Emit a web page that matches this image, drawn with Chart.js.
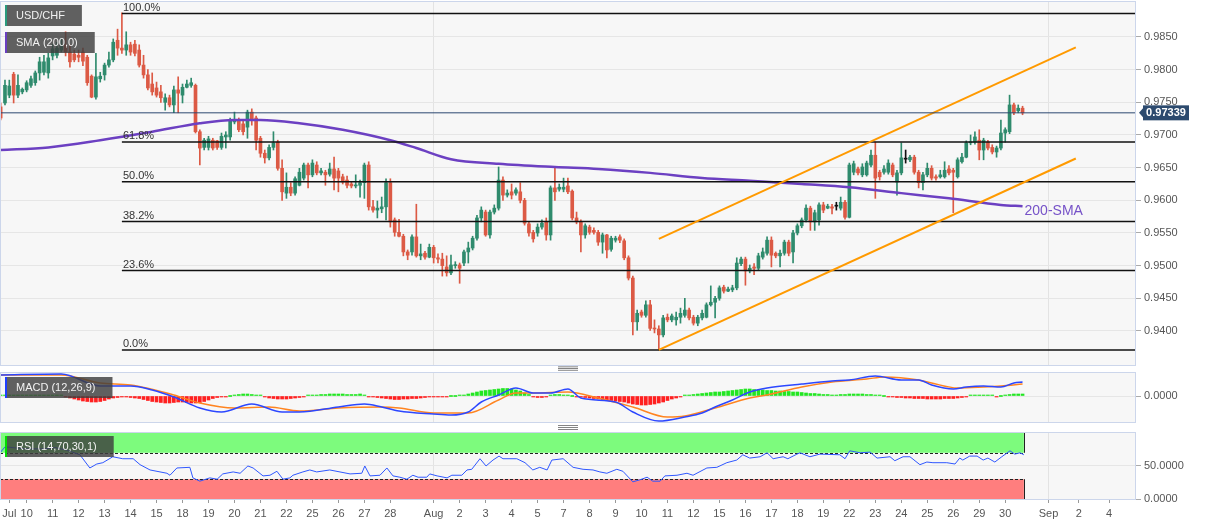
<!DOCTYPE html>
<html>
<head>
<meta charset="utf-8">
<title>USD/CHF</title>
<script src="https://cdn.jsdelivr.net/npm/chart.js@4.4.1/dist/chart.umd.min.js"></script>
<style>
  html, body { margin: 0; padding: 0; background: #fff; }
  #wrap { position: relative; width: 1207px; height: 526px; overflow: hidden; }
  canvas { position: absolute; left: 0; }
  #mainChart { top: 0; }
  #macdChart { top: 366px; }
  #rsiChart { top: 431px; }
</style>
</head>
<body>
<div id="wrap">
  <canvas id="mainChart" width="1207" height="366"></canvas>
  <canvas id="macdChart" width="1207" height="65"></canvas>
  <canvas id="rsiChart" width="1207" height="95"></canvas>
</div>
<script>
// 4H candles
const candleOpen = [
  0.9743,0.9749,0.9761,0.9793,0.9761,0.9766,0.9769,0.9776,0.9780,0.9795,
  0.9796,0.9795,0.9821,0.9822,0.9830,0.9838,0.9827,0.9824,0.9822,0.9827,
  0.9819,0.9790,0.9758,0.9786,0.9792,0.9807,0.9815,0.9845,0.9833,0.9830,
  0.9838,0.9839,0.9830,0.9807,0.9792,0.9778,0.9772,0.9766,0.9750,0.9757,
  0.9746,0.9769,0.9761,0.9773,0.9776,0.9776,0.9705,0.9681,0.9681,0.9692,
  0.9691,0.9681,0.9697,0.9697,0.9720,0.9723,0.9717,0.9712,0.9735,0.9726,
  0.9695,0.9672,0.9665,0.9681,0.9689,0.9649,0.9611,0.9620,0.9611,0.9623,
  0.9634,0.9654,0.9639,0.9654,0.9642,0.9643,0.9640,0.9648,0.9645,0.9636,
  0.9631,0.9625,0.9622,0.9623,0.9627,0.9654,0.9590,0.9585,0.9587,0.9590,
  0.9627,0.9570,0.9551,0.9545,0.9521,0.9521,0.9544,0.9515,0.9519,0.9513,
  0.9528,0.9512,0.9510,0.9498,0.9489,0.9500,0.9501,0.9504,0.9521,0.9527,
  0.9542,0.9573,0.9582,0.9547,0.9582,0.9588,0.9631,0.9608,0.9613,0.9611,
  0.9613,0.9600,0.9564,0.9551,0.9550,0.9559,0.9567,0.9547,0.9619,0.9617,
  0.9617,0.9622,0.9614,0.9573,0.9567,0.9547,0.9559,0.9554,0.9551,0.9536,
  0.9547,0.9525,0.9539,0.9544,0.9538,0.9512,0.9481,0.9414,0.9429,0.9424,
  0.9440,0.9404,0.9403,0.9394,0.9421,0.9417,0.9417,0.9421,0.9424,0.9432,
  0.9421,0.9412,0.9420,0.9421,0.9440,0.9444,0.9450,0.9467,0.9461,0.9463,
  0.9466,0.9503,0.9510,0.9492,0.9498,0.9496,0.9513,0.9519,0.9539,0.9519,
  0.9515,0.9519,0.9536,0.9521,0.9550,0.9561,0.9570,0.9588,0.9567,0.9570,
  0.9593,0.9588,0.9590,0.9591,0.9588,0.9597,0.9574,0.9643,0.9648,0.9639,
  0.9639,0.9654,0.9669,0.9643,0.9643,0.9643,0.9654,0.9628,0.9642,0.9663,
  0.9662,0.9666,0.9643,0.9627,0.9639,0.9649,0.9636,0.9636,0.9636,0.9648,
  0.9646,0.9636,0.9659,0.9666,0.9688,0.9689,0.9692,0.9677,0.9689,0.9681,
  0.9674,0.9680,0.9703,0.9705,0.9746,0.9737,0.9741
];
const candleHigh = [
  0.9749,0.9784,0.9784,0.9796,0.9792,0.9772,0.9783,0.9790,0.9798,0.9819,
  0.9822,0.9825,0.9839,0.9842,0.9848,0.9858,0.9838,0.9830,0.9830,0.9833,
  0.9822,0.9792,0.9825,0.9796,0.9810,0.9827,0.9847,0.9862,0.9887,0.9858,
  0.9842,0.9845,0.9838,0.9822,0.9800,0.9795,0.9781,0.9776,0.9763,0.9761,
  0.9775,0.9789,0.9778,0.9784,0.9787,0.9778,0.9708,0.9695,0.9698,0.9695,
  0.9692,0.9703,0.9705,0.9726,0.9735,0.9726,0.9723,0.9738,0.9740,0.9729,
  0.9698,0.9677,0.9685,0.9705,0.9692,0.9662,0.9642,0.9627,0.9636,0.9649,
  0.9657,0.9657,0.9662,0.9659,0.9649,0.9646,0.9657,0.9666,0.9649,0.9640,
  0.9637,0.9628,0.9639,0.9631,0.9657,0.9659,0.9600,0.9599,0.9605,0.9633,
  0.9633,0.9573,0.9571,0.9548,0.9524,0.9547,0.9594,0.9533,0.9522,0.9533,
  0.9531,0.9518,0.9519,0.9515,0.9516,0.9506,0.9504,0.9524,0.9536,0.9545,
  0.9577,0.9590,0.9585,0.9585,0.9593,0.9651,0.9636,0.9616,0.9625,0.9619,
  0.9627,0.9603,0.9567,0.9554,0.9564,0.9570,0.9573,0.9622,0.9651,0.9625,
  0.9634,0.9634,0.9616,0.9582,0.9570,0.9564,0.9562,0.9558,0.9554,0.9550,
  0.9548,0.9545,0.9545,0.9547,0.9541,0.9515,0.9484,0.9432,0.9432,0.9446,
  0.9447,0.9417,0.9408,0.9424,0.9426,0.9426,0.9429,0.9435,0.9450,0.9435,
  0.9424,0.9424,0.9432,0.9443,0.9469,0.9453,0.9469,0.9470,0.9467,0.9470,
  0.9512,0.9513,0.9513,0.9501,0.9503,0.9519,0.9527,0.9544,0.9544,0.9521,
  0.9524,0.9539,0.9539,0.9554,0.9564,0.9573,0.9593,0.9591,0.9585,0.9596,
  0.9597,0.9594,0.9594,0.9597,0.9605,0.9600,0.9657,0.9660,0.9651,0.9656,
  0.9660,0.9677,0.9689,0.9646,0.9653,0.9662,0.9657,0.9646,0.9688,0.9677,
  0.9669,0.9669,0.9646,0.9643,0.9657,0.9653,0.9639,0.9646,0.9659,0.9653,
  0.9649,0.9665,0.9672,0.9691,0.9700,0.9705,0.9708,0.9695,0.9692,0.9685,
  0.9683,0.9723,0.9711,0.9761,0.9749,0.9746,0.9744
];
const candleLow = [
  0.9723,0.9746,0.9757,0.9749,0.9757,0.9763,0.9766,0.9773,0.9776,0.9784,
  0.9792,0.9787,0.9815,0.9818,0.9827,0.9821,0.9804,0.9812,0.9812,0.9806,
  0.9776,0.9757,0.9755,0.9781,0.9784,0.9804,0.9812,0.9822,0.9825,0.9822,
  0.9822,0.9821,0.9804,0.9787,0.9769,0.9761,0.9758,0.9750,0.9738,0.9743,
  0.9734,0.9734,0.9749,0.9772,0.9773,0.9703,0.9654,0.9677,0.9677,0.9677,
  0.9678,0.9678,0.9680,0.9692,0.9717,0.9705,0.9700,0.9695,0.9715,0.9677,
  0.9666,0.9657,0.9662,0.9677,0.9646,0.9600,0.9603,0.9607,0.9608,0.9622,
  0.9631,0.9619,0.9636,0.9639,0.9639,0.9623,0.9637,0.9616,0.9613,0.9625,
  0.9619,0.9619,0.9619,0.9605,0.9603,0.9585,0.9582,0.9573,0.9581,0.9570,
  0.9559,0.9545,0.9544,0.9515,0.9509,0.9516,0.9513,0.9509,0.9510,0.9512,
  0.9504,0.9504,0.9484,0.9484,0.9486,0.9496,0.9473,0.9500,0.9504,0.9524,
  0.9539,0.9567,0.9545,0.9542,0.9579,0.9585,0.9600,0.9605,0.9602,0.9608,
  0.9596,0.9562,0.9545,0.9536,0.9545,0.9556,0.9539,0.9539,0.9600,0.9614,
  0.9613,0.9610,0.9570,0.9564,0.9521,0.9542,0.9548,0.9548,0.9531,0.9519,
  0.9512,0.9522,0.9536,0.9535,0.9509,0.9478,0.9394,0.9401,0.9421,0.9421,
  0.9401,0.9397,0.9371,0.9391,0.9414,0.9414,0.9409,0.9412,0.9421,0.9417,
  0.9409,0.9408,0.9417,0.9420,0.9438,0.9420,0.9447,0.9458,0.9460,0.9460,
  0.9463,0.9500,0.9470,0.9489,0.9486,0.9493,0.9510,0.9516,0.9498,0.9512,
  0.9498,0.9516,0.9515,0.9504,0.9547,0.9558,0.9567,0.9554,0.9554,0.9562,
  0.9581,0.9587,0.9579,0.9585,0.9585,0.9571,0.9573,0.9639,0.9639,0.9636,
  0.9637,0.9651,0.9603,0.9631,0.9640,0.9640,0.9636,0.9608,0.9639,0.9657,
  0.9659,0.9640,0.9619,0.9616,0.9636,0.9631,0.9631,0.9634,0.9634,0.9639,
  0.9581,0.9634,0.9657,0.9665,0.9685,0.9686,0.9662,0.9662,0.9677,0.9671,
  0.9666,0.9677,0.9689,0.9702,0.9731,0.9734,0.9731
];
const candleClose = [
  0.9726,0.9776,0.9775,0.9761,0.9776,0.9770,0.9780,0.9786,0.9795,0.9812,
  0.9812,0.9818,0.9832,0.9833,0.9838,0.9827,0.9812,0.9815,0.9819,0.9813,
  0.9780,0.9758,0.9789,0.9790,0.9807,0.9815,0.9842,0.9833,0.9830,0.9838,
  0.9827,0.9825,0.9807,0.9792,0.9772,0.9766,0.9761,0.9757,0.9757,0.9746,
  0.9769,0.9764,0.9773,0.9778,0.9780,0.9705,0.9680,0.9692,0.9694,0.9680,
  0.9681,0.9698,0.9700,0.9721,0.9723,0.9708,0.9705,0.9735,0.9723,0.9692,
  0.9672,0.9665,0.9681,0.9688,0.9649,0.9613,0.9620,0.9611,0.9633,0.9643,
  0.9654,0.9639,0.9657,0.9642,0.9645,0.9639,0.9648,0.9634,0.9634,0.9628,
  0.9623,0.9622,0.9623,0.9627,0.9654,0.9590,0.9585,0.9588,0.9590,0.9627,
  0.9567,0.9551,0.9545,0.9521,0.9516,0.9544,0.9515,0.9518,0.9513,0.9528,
  0.9512,0.9510,0.9500,0.9489,0.9501,0.9501,0.9496,0.9521,0.9527,0.9542,
  0.9573,0.9585,0.9547,0.9582,0.9588,0.9631,0.9608,0.9611,0.9608,0.9616,
  0.9600,0.9565,0.9550,0.9541,0.9559,0.9565,0.9547,0.9619,0.9613,0.9620,
  0.9620,0.9613,0.9573,0.9567,0.9547,0.9561,0.9551,0.9551,0.9536,0.9547,
  0.9524,0.9542,0.9542,0.9539,0.9512,0.9481,0.9414,0.9427,0.9424,0.9440,
  0.9404,0.9403,0.9394,0.9420,0.9417,0.9423,0.9421,0.9427,0.9432,0.9420,
  0.9412,0.9421,0.9427,0.9440,0.9444,0.9450,0.9466,0.9461,0.9464,0.9466,
  0.9504,0.9510,0.9492,0.9496,0.9496,0.9515,0.9521,0.9539,0.9516,0.9515,
  0.9519,0.9536,0.9519,0.9550,0.9561,0.9570,0.9588,0.9567,0.9581,0.9593,
  0.9585,0.9591,0.9588,0.9591,0.9597,0.9574,0.9654,0.9656,0.9642,0.9651,
  0.9657,0.9669,0.9634,0.9636,0.9648,0.9657,0.9639,0.9642,0.9665,0.9663,
  0.9666,0.9643,0.9627,0.9639,0.9649,0.9634,0.9634,0.9639,0.9646,0.9642,
  0.9643,0.9662,0.9666,0.9688,0.9689,0.9697,0.9677,0.9692,0.9680,0.9674,
  0.9680,0.9703,0.9708,0.9746,0.9734,0.9741,0.97339
];

// 200 SMA, sampled along the curve (candle index, price)
const smaIdx = [0, 11, 23, 35, 46, 54, 60, 69, 79, 90, 96, 104, 115, 128, 138, 150, 162, 173, 185, 196, 208, 219, 231, 236];
const smaVal = [0.9677, 0.9681, 0.9692, 0.9705, 0.9718, 0.9723, 0.9723, 0.9718, 0.9708, 0.9692, 0.9680, 0.9663, 0.9656, 0.9651, 0.9648, 0.9642, 0.9634, 0.9630, 0.9625, 0.9620, 0.9611, 0.9603, 0.9593, 0.9591];

// fibonacci retracement, 14 Jul high to 11 Aug low
const fibStartIdx = 28;
const fibHigh = 0.9886;
const fibLow = 0.9371;
const fibRatios = [1, 0.618, 0.5, 0.382, 0.236, 0];
const fibLabels = ['100.0%', '61.8%', '50.0%', '38.2%', '23.6%', '0.0%'];

// rising channel
const channelIdx = [152, 248.3];
const channelUpper = [0.9541, 0.9834];
const channelLower = [0.9371, 0.9664];

const priceTicks = [0.9400, 0.9450, 0.9500, 0.9550, 0.9600, 0.9650, 0.9700, 0.9750, 0.9800, 0.9850];

// MACD (12,26,9)
const macdIdx = [0, 14, 23, 30, 35, 40, 46, 51, 58, 65, 69, 78, 84, 88, 92, 100, 104, 108, 111, 115, 119, 123, 127, 131, 134, 142, 146, 152, 158, 162, 165, 169, 173, 177, 185, 192, 196, 202, 208, 212, 215, 220, 223, 227, 231, 234, 236];
const macdVal = [0.0042, 0.0044, 0.0020, 0.0020, 0.0012, -0.0002, -0.0024, -0.0032, -0.0016, -0.0032, -0.0032, -0.0022, -0.0016, -0.0022, -0.0030, -0.0036, -0.0038, -0.0032, -0.0012, 0.0002, 0.0016, 0.0006, 0.0006, 0.0014, -0.0004, -0.0012, -0.0032, -0.0050, -0.0042, -0.0034, -0.0022, -0.0008, 0.0008, 0.0016, 0.0024, 0.0030, 0.0032, 0.0040, 0.0032, 0.0032, 0.0022, 0.0014, 0.0018, 0.0020, 0.0018, 0.0026, 0.0028];
const signalIdx = [0, 14, 23, 30, 40, 46, 54, 62, 69, 78, 88, 92, 100, 108, 115, 119, 123, 131, 138, 146, 154, 158, 165, 173, 177, 185, 192, 200, 204, 212, 215, 221, 227, 231, 236];
const signalVal = [0.0042, 0.0042, 0.0026, 0.0022, 0.0002, -0.0014, -0.0024, -0.0022, -0.0030, -0.0024, -0.0022, -0.0024, -0.0034, -0.0034, -0.0008, 0.0006, 0.0006, 0.0008, -0.0004, -0.0022, -0.0042, -0.0040, -0.0024, -0.0004, 0.0002, 0.0018, 0.0028, 0.0034, 0.0038, 0.0032, 0.0026, 0.0016, 0.0018, 0.0020, 0.0024];
const macdHist = [
  0.0001,0.0001,0.0001,0.0001,0.0001,0.0001,0.0001,0.0001,0.0001,0.0001,0.0001,0.0001,0.0001,0.0001,0.0001,
  -0.0002,-0.0004,-0.0006,-0.0008,-0.0010,-0.0011,-0.0012,-0.0012,-0.0011,-0.0009,-0.0006,
  -0.0004,-0.0003,-0.0002,-0.0002,-0.0003,-0.0004,-0.0005,
  -0.0007,-0.0009,-0.0011,-0.0012,-0.0013,-0.0014,-0.0014,-0.0013,-0.0012,-0.0012,-0.0013,-0.0014,-0.0014,-0.0013,-0.0011,-0.0008,-0.0005,
  -0.0003,-0.0002,-0.0001,0,
  0.0002,0.0003,0.0004,0.0004,0.0003,0.0002,0.0001,
  -0.0002,-0.0004,-0.0005,-0.0006,-0.0006,-0.0006,-0.0005,-0.0004,-0.0003,-0.0001,
  0.0001,0.0002,0.0002,0.0003,0.0003,0.0004,0.0004,0.0004,0.0004,0.0003,0.0003,0.0003,0.0004,0.0002,
  -0.0001,-0.0002,-0.0003,-0.0004,-0.0005,-0.0006,-0.0007,-0.0007,-0.0006,-0.0006,-0.0005,-0.0005,-0.0004,-0.0003,-0.0002,-0.0002,-0.0001,
  -0.0001,-0.0001,0,0,
  0.0001,0.0002,0.0004,0.0006,0.0008,0.0010,0.0011,0.0012,0.0013,0.0014,0.0015,0.0015,0.0014,0.0012,0.0010,
  0.0006,0.0003,
  -0.0002,-0.0003,-0.0003,-0.0001,
  0.0002,0.0003,0.0003,0.0002,0.0001,
  0,-0.0001,
  -0.0002,-0.0003,-0.0004,-0.0005,-0.0006,-0.0007,-0.0008,-0.0009,-0.0010,-0.0011,-0.0012,
  -0.0014,-0.0016,-0.0017,-0.0018,-0.0018,-0.0017,-0.0016,-0.0014,-0.0012,
  -0.0009,-0.0006,-0.0004,-0.0002,
  0.0001,0.0002,0.0003,0.0004,0.0005,0.0006,0.0007,0.0008,0.0008,0.0009,0.0010,
  0.0011,0.0012,0.0013,0.0014,0.0014,0.0013,0.0012,0.0012,0.0011,
  0.0011,0.0010,0.0010,0.0009,0.0009,0.0008,0.0008,
  0.0007,0.0006,0.0005,0.0005,0.0004,0.0003,
  0.0003,0.0002,0.0002,0.0003,0.0003,0.0004,0.0004,0.0004,0.0004,0.0003,0.0003,0.0002,
  0.0001,0,-0.0001,
  -0.0002,-0.0003,-0.0003,-0.0004,-0.0004,-0.0005,-0.0005,-0.0005,-0.0006,-0.0006,-0.0006,-0.0006,-0.0005,-0.0005,-0.0005,-0.0004,-0.0003,-0.0002,
  0.0001,0.0002,0.0002,0.0002,0.0001,0.0001,
  -0.0001,0,
  0.0002,0.0003,0.0004,0.0004,0.0004
];

// RSI (14,70,30,1)
const rsiIdx = [0, 1, 5.6, 10.2, 12.5, 15.3, 18.3, 20.6, 22.2, 23.6, 25.9, 28.2, 30.6, 32.2, 34.5, 38.4, 39.1, 40.7, 43.7, 44.4, 46, 48.3, 50, 51.3, 53.7, 55.3, 57.1, 58.3, 60.6, 62.2, 63.8, 65.2, 66.8, 67.5, 69.8, 71.4, 73, 76, 80.7, 83.4, 84.1, 85.3, 87.6, 89.2, 90.6, 92.2, 93.8, 95.2, 96.4, 98.4, 99.1, 100.8, 103.1, 104.2, 106.5, 107.7, 108.8, 110.7, 112.1, 113.7, 115.1, 116, 119.2, 121.1, 122.9, 124.5, 126.2, 127.3, 129.9, 132.2, 134.5, 136.8, 138.4, 140, 142.3, 143.7, 146, 147.6, 149.3, 150.6, 152.3, 153.4, 156.2, 158.5, 159.9, 163.1, 165.4, 167.7, 170, 171.4, 173, 175.4, 177, 178.4, 180.7, 181.8, 183.9, 184.6, 186.9, 189.2, 193.8, 195, 196.1, 198.5, 200.8, 202.4, 205.4, 206.5, 208.4, 210, 212.3, 213.9, 215.3, 218.5, 220.4, 221.5, 222.2, 223.8, 225.5, 226.9, 228, 229.6, 231.2, 233.1, 234.2, 235.4, 236.3];
const rsiVal = [71, 79, 76, 76, 78, 74, 67, 47, 53, 55, 64, 61, 61, 52, 44, 39, 36, 47, 48, 32, 27, 32, 30, 38, 41, 39, 50, 47, 35, 36, 42, 30, 32, 36, 41, 44, 41, 44, 38, 39, 50, 35, 36, 47, 35, 33, 30, 36, 33, 33, 38, 35, 32, 36, 36, 44, 45, 61, 50, 59, 65, 61, 61, 55, 44, 48, 44, 59, 61, 48, 45, 44, 41, 39, 45, 42, 26, 29, 33, 27, 27, 35, 36, 39, 36, 47, 48, 55, 59, 67, 62, 64, 70, 61, 64, 61, 68, 70, 64, 68, 67, 61, 73, 70, 71, 62, 64, 58, 64, 64, 52, 56, 55, 55, 53, 62, 59, 65, 65, 59, 62, 56, 64, 73, 68, 70, 67];
const rsiUpper = 70;
const rsiLower = 30;

// date axis
const xTickIdx = [2, 6, 12, 18, 24, 30, 36, 42, 48, 54, 60, 66, 72, 78, 84, 90, 100, 106, 112, 118, 124, 130, 136, 142, 148, 154, 160, 166, 172, 178, 184, 190, 196, 202, 208, 214, 220, 226, 232, 242, 249, 256];
const xTickLabels = ['Jul','10','11','12','13','14','15','18','19','20','21','22','25','26','27','28','Aug','2','3','4','5','7','8','9','10','11','12','15','16','17','18','19','22','23','24','25','26','29','30','Sep','2','4'];
const monthLineIdx = [100, 242];

const symbolName = 'USD/CHF';
const smaName = 'SMA (200,0)';
const macdName = 'MACD (12,26,9)';
const rsiName = 'RSI (14,70,30,1)';

const FONT = '"Liberation Sans", Arial, sans-serif';
const X_MIN = -0.15, X_MAX = 262.2;
const AXIS_W = 71;
const PLOT_BG = '#f7f7f7';
const PLOT_BORDER = '#ccd6eb';
const GRID = '#e6e6e6';

Chart.defaults.font.family = FONT;
Chart.defaults.font.size = 11;
Chart.defaults.color = '#555';
Chart.defaults.animation = false;
Chart.defaults.plugins.legend.display = false;
Chart.defaults.plugins.tooltip.enabled = false;

const toPts = (xs, ys) => xs.map((x, i) => ({ x: x, y: ys[i] }));

// no label overhang padding, the panels have to line up exactly
function noPad(s) {
  s.paddingTop = 0; s.paddingBottom = 0; s.paddingLeft = 0; s.paddingRight = 0;
}

function candleColor(i) {
  if (candleClose[i] === candleOpen[i]) return '#111';
  return candleClose[i] > candleOpen[i] ? '#2f8b6d' : '#dc5a45';
}
const candleColors = candleClose.map((_, i) => candleColor(i));
const wickData = candleClose.map((_, i) => ({ x: i, y: [candleLow[i], candleHigh[i]] }));
const bodyData = candleClose.map((_, i) => ({ x: i, y: [candleOpen[i], candleClose[i]] }));
const lastClose = candleClose[candleClose.length - 1];

// panel background + frame
const panelFrame = {
  id: 'panelFrame',
  beforeDraw(chart) {
    const { ctx, chartArea: a } = chart;
    ctx.save();
    ctx.fillStyle = PLOT_BG;
    ctx.fillRect(a.left, a.top, a.right - a.left, a.bottom - a.top);
    ctx.restore();
  },
  afterDraw(chart) {
    const { ctx, chartArea: a } = chart;
    ctx.save();
    ctx.strokeStyle = PLOT_BORDER;
    ctx.lineWidth = 1;
    ctx.strokeRect(a.left + 0.5, a.top + 0.5, a.right - a.left - 1, a.bottom - a.top);
    ctx.restore();
  }
};

function drawTag(ctx, x, y, text, barColor) {
  ctx.save();
  ctx.font = '11px ' + FONT;
  const w = ctx.measureText(text).width + 28;
  const h = 21;
  ctx.fillStyle = 'rgba(62,62,62,0.82)';
  ctx.fillRect(x, y, w, h);
  ctx.fillStyle = barColor;
  ctx.fillRect(x, y, 2, h);
  ctx.fillStyle = '#f2f2f2';
  ctx.textBaseline = 'middle';
  ctx.textAlign = 'left';
  ctx.fillText(text, x + 11, y + h / 2 + 0.5);
  ctx.restore();
}

const xLinear = () => ({
  type: 'linear', min: X_MIN, max: X_MAX, offset: false,
  afterBuildTicks: s => { s.ticks = monthLineIdx.map(v => ({ value: v })); },
  afterFit: s => { s.height = 0; noPad(s); },
  ticks: { display: false },
  grid: { color: '#e3e3e3', drawTicks: false, offset: false },
  border: { display: false }
});

const yRight = (min, max, ticks, fmt) => ({
  position: 'right', min: min, max: max,
  afterBuildTicks: s => { s.ticks = ticks.map(v => ({ value: v })); },
  afterFit: s => { s.width = AXIS_W; noPad(s); },
  ticks: { callback: fmt, padding: 3, color: '#555', font: { size: 11 } },
  grid: { color: GRID, tickColor: '#aaa', tickLength: 5 },
  border: { display: false }
});

// ---------- main price panel ----------
const mainOverlay = {
  id: 'mainOverlay',
  afterDraw(chart) {
    const { ctx, scales: { x, y } } = chart;
    ctx.save();
    // fib labels
    ctx.font = '11px ' + FONT;
    ctx.fillStyle = '#333';
    ctx.textAlign = 'left';
    ctx.textBaseline = 'alphabetic';
    fibRatios.forEach((r, i) => {
      const lvl = fibLow + (fibHigh - fibLow) * r;
      ctx.fillText(fibLabels[i], x.getPixelForValue(fibStartIdx) + 1, y.getPixelForValue(lvl) - 2.5);
    });
    // 200-SMA text
    ctx.font = '14px ' + FONT;
    ctx.fillStyle = '#7652c8';
    ctx.textBaseline = 'middle';
    const n = smaIdx.length - 1;
    ctx.fillText('200-SMA', x.getPixelForValue(smaIdx[n]) + 2, y.getPixelForValue(smaVal[n]) + 5);
    // last price tag
    const py = y.getPixelForValue(lastClose);
    const bx = chart.chartArea.right + 7;
    ctx.fillStyle = '#2c4a6e';
    ctx.beginPath();
    ctx.moveTo(bx - 4, py);
    ctx.lineTo(bx, py - 4.5);
    ctx.lineTo(bx, py + 4.5);
    ctx.closePath();
    ctx.fill();
    ctx.fillRect(bx, py - 7.5, 46, 15);
    ctx.font = 'bold 11px ' + FONT;
    ctx.fillStyle = '#fff';
    ctx.textAlign = 'center';
    ctx.fillText(lastClose.toFixed(5), bx + 23, py + 0.5);
    ctx.restore();
    drawTag(ctx, 5, 5, symbolName, '#2a9a7c');
    drawTag(ctx, 5, 32, smaName, '#6a3fc0');
  }
};

const lineDs = (data, color, width, order, extra) => Object.assign({
  type: 'line', data: data, borderColor: color, borderWidth: width,
  pointRadius: 0, fill: false, order: order
}, extra || {});

const fibSets = fibRatios.map(r => {
  const lvl = fibLow + (fibHigh - fibLow) * r;
  return lineDs([{ x: fibStartIdx, y: lvl }, { x: X_MAX, y: lvl }], '#111', 1.5, 4);
});

new Chart(document.getElementById('mainChart'), {
  type: 'bar',
  data: {
    datasets: [
      { type: 'bar', data: wickData, backgroundColor: candleColors, barThickness: 1, grouped: false, order: 11 },
      { type: 'bar', data: bodyData, backgroundColor: candleColors, barThickness: 3, minBarLength: 1, grouped: false, order: 10 },
      lineDs(toPts(smaIdx, smaVal), '#6c40c2', 2.5, 5, { tension: 0.4, cubicInterpolationMode: 'monotone' }),
      ...fibSets,
      lineDs(toPts(channelIdx, channelUpper), '#ff9a00', 2, 3),
      lineDs(toPts(channelIdx, channelLower), '#ff9a00', 2, 3),
      lineDs([{ x: X_MIN, y: lastClose }, { x: X_MAX, y: lastClose }], '#2c4870', 1, 2)
    ]
  },
  options: {
    responsive: false,
    devicePixelRatio: 1,
    layout: { padding: { top: 1, bottom: 1, left: 0, right: 0 } },
    scales: {
      x: xLinear(),
      y: yRight(0.93479, 0.99051, priceTicks, v => v.toFixed(4))
    }
  },
  plugins: [panelFrame, mainOverlay]
});

// ---------- MACD panel ----------
const macdOverlay = {
  id: 'macdOverlay',
  afterDraw(chart) {
    const { ctx, chartArea: a } = chart;
    ctx.save();
    ctx.fillStyle = '#777';
    const cx = (a.left + a.right) / 2;
    for (let k = 0; k < 3; k++) {
      ctx.fillRect(cx - 10, a.top - 5.6 + k * 1.7, 20, 0.9);
      ctx.fillRect(cx - 10, a.bottom + 3 + k * 2, 20, 0.9);
    }
    ctx.restore();
    drawTag(ctx, 5, a.top + 5, macdName, '#1f3fff');
  }
};

new Chart(document.getElementById('macdChart'), {
  type: 'bar',
  data: {
    datasets: [
      {
        type: 'bar', data: macdHist.map((v, i) => ({ x: i, y: v })),
        backgroundColor: macdHist.map(v => v >= 0 ? '#22e622' : '#ff2020'),
        barThickness: 3, minBarLength: 1, grouped: false, order: 10
      },
      lineDs(toPts(macdIdx, macdVal), '#2c47ff', 1.5, 2, { tension: 0.4, cubicInterpolationMode: 'monotone' }),
      lineDs(toPts(signalIdx, signalVal), '#ff8420', 1.5, 3, { tension: 0.4, cubicInterpolationMode: 'monotone' })
    ]
  },
  options: {
    responsive: false,
    devicePixelRatio: 1,
    layout: { padding: { top: 6, bottom: 9, left: 0, right: 0 } },
    scales: {
      x: xLinear(),
      y: yRight(-0.0052, 0.0048, [0], v => Math.abs(v).toFixed(4))
    }
  },
  plugins: [panelFrame, macdOverlay]
});

// ---------- RSI panel ----------
const rsiZones = {
  id: 'rsiZones',
  beforeDatasetsDraw(chart) {
    const { ctx, chartArea: a, scales: { x, y } } = chart;
    const xr = x.getPixelForValue(rsiIdx[rsiIdx.length - 1]);
    const yu = y.getPixelForValue(rsiUpper);
    const yl = y.getPixelForValue(rsiLower);
    ctx.save();
    ctx.fillStyle = '#7dfb7d';
    ctx.fillRect(a.left, a.top, xr - a.left, yu - a.top);
    ctx.fillStyle = '#ff7e7e';
    ctx.fillRect(a.left, yl, xr - a.left, a.bottom - yl);
    ctx.strokeStyle = '#222';
    ctx.lineWidth = 1;
    ctx.setLineDash([3, 2]);
    ctx.beginPath();
    ctx.moveTo(a.left, Math.round(yu) + 0.5); ctx.lineTo(xr, Math.round(yu) + 0.5);
    ctx.moveTo(a.left, Math.round(yl) + 0.5); ctx.lineTo(xr, Math.round(yl) + 0.5);
    ctx.stroke();
    ctx.setLineDash([]);
    ctx.beginPath();
    ctx.moveTo(Math.round(xr) + 0.5, a.top); ctx.lineTo(Math.round(xr) + 0.5, yu);
    ctx.moveTo(Math.round(xr) + 0.5, yl); ctx.lineTo(Math.round(xr) + 0.5, a.bottom);
    ctx.moveTo(a.left + 0.5, yl); ctx.lineTo(a.left + 0.5, a.bottom);
    ctx.stroke();
    ctx.restore();
  },
  afterDraw(chart) {
    drawTag(chart.ctx, 5, chart.chartArea.top + 4, rsiName, '#00dd00');
  }
};

new Chart(document.getElementById('rsiChart'), {
  type: 'line',
  data: {
    datasets: [
      lineDs(toPts(rsiIdx, rsiVal), '#2f57ff', 1, 1)
    ]
  },
  options: {
    responsive: false,
    devicePixelRatio: 1,
    layout: { padding: { top: 1, bottom: 0, left: 0, right: 0 } },
    scales: {
      x: {
        type: 'linear', min: X_MIN, max: X_MAX, offset: false,
        afterBuildTicks: s => { s.ticks = xTickIdx.map(v => ({ value: v })); },
        afterFit: s => { s.height = 27; noPad(s); },
        ticks: {
          autoSkip: false, maxRotation: 0, minRotation: 0, padding: 4, color: '#555',
          font: { size: 11 },
          callback: (v, i) => xTickLabels[i]
        },
        grid: {
          color: ctx => (ctx.tick && monthLineIdx.includes(ctx.tick.value)) ? '#e3e3e3' : 'rgba(0,0,0,0)',
          tickColor: '#999', tickLength: 4, offset: false
        },
        border: { display: false }
      },
      y: yRight(0, 101.5, [0, 50], v => v.toFixed(4))
    }
  },
  plugins: [panelFrame, rsiZones]
});
</script>
</body>
</html>
